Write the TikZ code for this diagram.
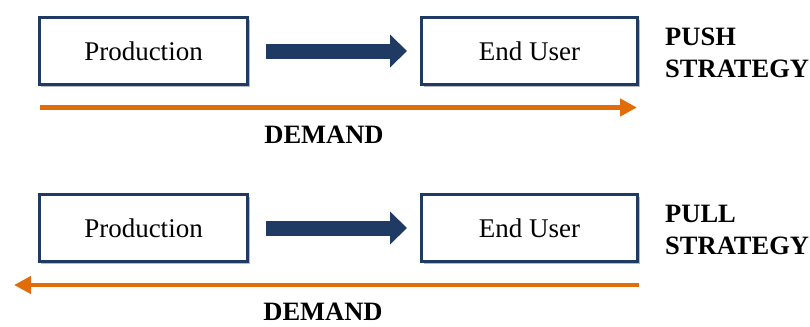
\documentclass[tikz,border=0pt]{standalone}
\usepackage{fontspec}
\setmainfont{Liberation Serif}
\usetikzlibrary{arrows.meta,shadows}
\definecolor{navy}{HTML}{1F3A63}
\definecolor{demandorange}{HTML}{E36C0A}
\tikzset{
  stagebox/.style={draw=navy, line width=3bp, fill=white, minimum height=67bp,
    inner sep=0pt, font=\fontsize{27bp}{32bp}\selectfont,
    drop shadow={shadow xshift=2bp, shadow yshift=-2.5bp, opacity=0.45, fill=black!60}},
  flowarrow/.style={draw=navy, line width=15bp, -{Triangle[length=17bp,width=32bp]}},
  demandarrow/.style={draw=demandorange, line width=4.5bp, -{Triangle[length=17bp,width=17bp]}},
  boldlabel/.style={font=\bfseries\fontsize{26.5bp}{32bp}\selectfont, inner sep=0pt},
}
\begin{document}
\begin{tikzpicture}[x=1bp,y=-1bp]
\useasboundingbox (0,0) rectangle (810,326);
% push strategy
\node[stagebox, minimum width=208bp] (prodA) at (143.5,51) {Production};
\node[stagebox, minimum width=216bp] (userA) at (529.5,51) {End User};
\draw[flowarrow] ([xshift=17bp]prodA.east) -- ([xshift=-13bp]userA.west);
\coordinate (demA0) at (40,107.5);
\coordinate (demA1) at (637,107.5);
\draw[demandarrow] (demA0) -- (demA1);
\node[boldlabel, anchor=base] (demandA) at (324,143) {DEMAND};
% the base anchor of a two-line label sits on its last line
\node[boldlabel, align=left, anchor=base west] (pushlbl) at (665,77) {PUSH\\STRATEGY};
% pull strategy
\node[stagebox, minimum width=208bp] (prodB) at (143.5,228) {Production};
\node[stagebox, minimum width=216bp] (userB) at (529.5,228) {End User};
\draw[flowarrow] ([xshift=17bp]prodB.east) -- ([xshift=-13bp]userB.west);
\coordinate (demB0) at (639,285);
\coordinate (demB1) at (14,285);
\draw[demandarrow] (demB0) -- (demB1);
\node[boldlabel, anchor=base, text depth=0pt] (demandB) at (323,320) {DEMAND};
\node[boldlabel, align=left, anchor=base west] (pulllbl) at (665,254) {PULL\\STRATEGY};
\end{tikzpicture}
\end{document}
